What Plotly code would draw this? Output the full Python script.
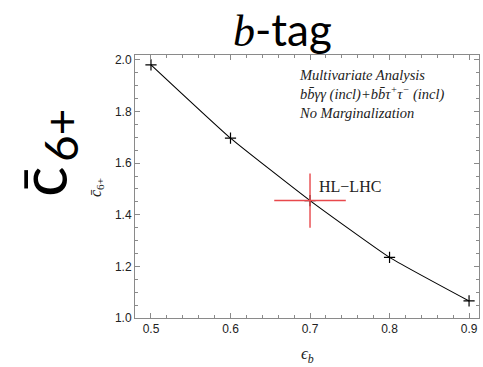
import plotly.graph_objects as go

# b-tagging efficiency scan
eff_b = [0.5, 0.6, 0.7, 0.8, 0.9]
c6_bar = [1.981, 1.697, 1.455, 1.235, 1.066]

# HL-LHC benchmark point with its cross extent
hl_eff = [0.7]
hl_c6 = [1.455]
hl_dx = [0.045]
hl_dy = [0.105]

x_ticks = [0.5, 0.6, 0.7, 0.8, 0.9]
y_ticks = [1.0, 1.2, 1.4, 1.6, 1.8, 2.0]

W, H = 483, 367
L, R, T, B = 135, 4, 55, 49
PW, PH = W - L - R, H - T - B


def px(x):
    return (x - L) / PW


def py(y):
    return (H - B - y) / PH


fig = go.Figure()

fig.add_trace(go.Scatter(
    x=eff_b, y=c6_bar, mode="lines+markers",
    line=dict(color="black", width=1.1, shape="spline", smoothing=0.4),
    marker=dict(symbol="cross-thin", size=8, line=dict(color="black", width=1.2)),
    showlegend=False, hoverinfo="skip",
))

fig.add_trace(go.Scatter(
    x=hl_eff, y=hl_c6, mode="markers",
    marker=dict(size=1, color="rgba(0,0,0,0)"),
    error_x=dict(type="data", array=hl_dx, symmetric=True, width=0, color="#e8484c", thickness=1.4),
    error_y=dict(type="data", array=hl_dy, symmetric=True, width=0, color="#e8484c", thickness=1.4),
    showlegend=False, hoverinfo="skip",
))

axis_common = dict(
    showgrid=False, zeroline=False, showline=True, linecolor="#8a8a8a", linewidth=1,
    ticks="inside", ticklen=5, tickwidth=1, tickcolor="#8a8a8a", mirror="allticks",
    tickfont=dict(family="Liberation Sans", size=12, color="#222222"),
)

fig.update_layout(
    width=W, height=H,
    margin=dict(l=L, r=R, t=T, b=B),
    paper_bgcolor="white", plot_bgcolor="white",
    xaxis=dict(range=[0.4799, 0.9125], tickvals=x_ticks, ticktext=[f"{v:.1f}" for v in x_ticks],
               minor=dict(dtick=0.02, tick0=0.5, ticks="inside", ticklen=3, tickcolor="#8a8a8a"),
               **axis_common),
    yaxis=dict(range=[1.0, 2.019], tickvals=y_ticks, ticktext=[f"{v:.1f}" for v in y_ticks],
               minor=dict(dtick=0.05, tick0=1.0, ticks="inside", ticklen=3, tickcolor="#8a8a8a"),
               **axis_common),
)

annotations = [
    # slide title
    dict(x=px(282), y=py(1), yanchor="top",
         text="<span style='font-family:Liberation Serif'><i>b</i></span>-tag",
         font=dict(family="Lato", size=44, color="black")),
    # large observable label, built from the barred symbol and its subscript
    dict(x=px(42), y=py(182), text="c\u0304", textangle=-90,
         font=dict(family="Lato", size=64, color="black")),
    dict(x=px(60), y=py(136), text="6+", textangle=-90,
         font=dict(family="Lato", size=46, color="black")),
    # plot axis titles
    dict(x=px(96), y=py(188), text="<i>c\u0304</i><sub>6+</sub>", textangle=-90,
         font=dict(family="Liberation Serif", size=16, color="#222222")),
    dict(x=px(307), y=py(355), text="<i>\u03f5<sub>b</sub></i>",
         font=dict(family="Liberation Serif", size=17, color="#222222")),
    # analysis description
    dict(x=px(297), y=py(65), xanchor="left", yanchor="top", align="left",
         text="<i>Multivariate Analysis<br>bb\u0304\u03b3\u03b3 (incl)+bb\u0304\u03c4<sup>+</sup>\u03c4<sup>\u2212</sup> (incl)<br>No Marginalization</i>",
         font=dict(family="Liberation Serif", size=14.5, color="#222222")),
    # benchmark label
    dict(x=hl_eff[0], y=hl_c6[0], xref="x", yref="y", xanchor="left", xshift=7, yshift=14,
         text="HL\u2212LHC", font=dict(family="Liberation Serif", size=16, color="#222222")),
]
for a in annotations:
    a.setdefault("xref", "paper")
    a.setdefault("yref", "paper")
    a.setdefault("showarrow", False)
    a.setdefault("xanchor", "center")
    a.setdefault("yanchor", "middle")
fig.update_layout(annotations=annotations)

fig.write_html("out.html")
